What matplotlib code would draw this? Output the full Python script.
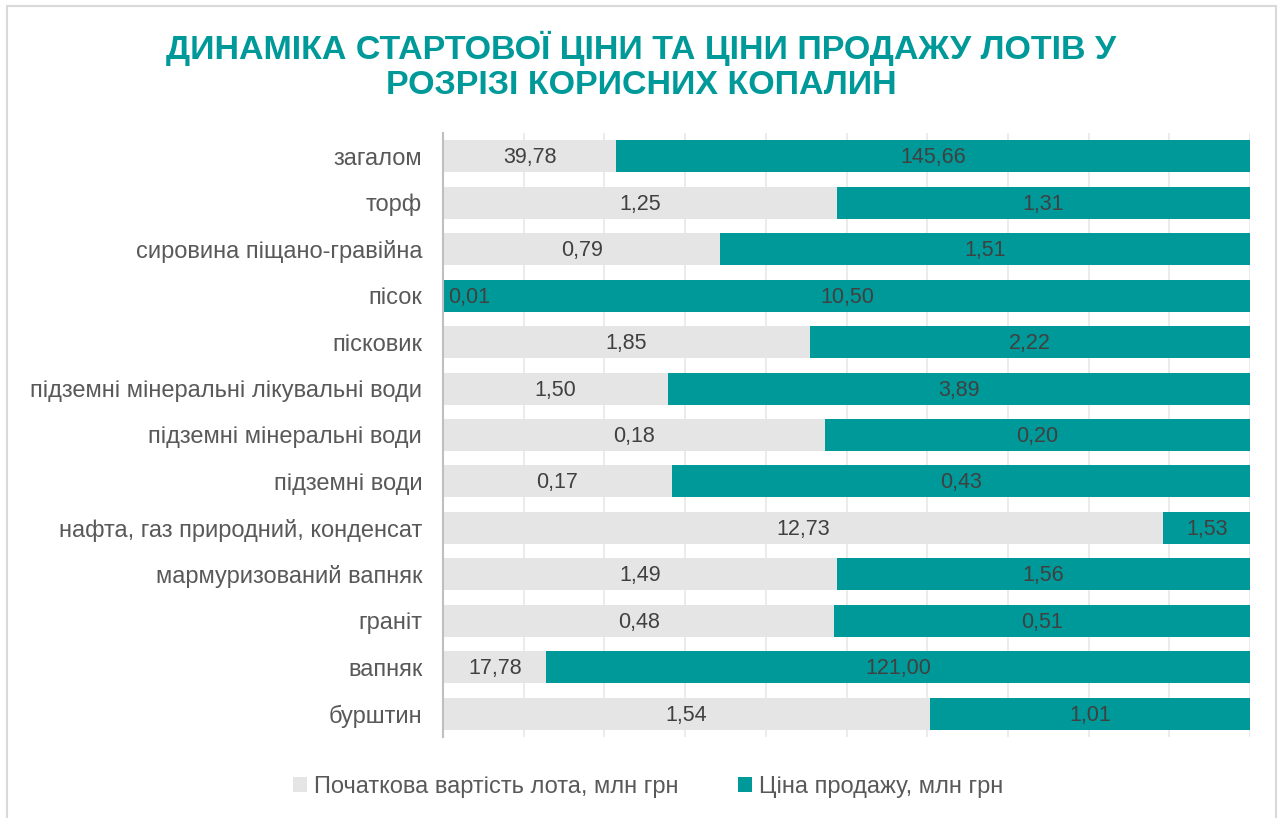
import matplotlib
matplotlib.use("Agg")
import matplotlib.pyplot as plt
from matplotlib.patches import Rectangle
from matplotlib import font_manager
from matplotlib.transforms import offset_copy
import numpy as np

categories = ["загалом", "торф", "сировина піщано-гравійна", "пісок", "пісковик",
              "підземні мінеральні лікувальні води", "підземні мінеральні води",
              "підземні води", "нафта, газ природний, конденсат",
              "мармуризований вапняк", "граніт", "вапняк", "бурштин"]
start_price = [39.78, 1.25, 0.79, 0.01, 1.85, 1.50, 0.18, 0.17, 12.73, 1.49, 0.48, 17.78, 1.54]
sale_price = [145.66, 1.31, 1.51, 10.50, 2.22, 3.89, 0.20, 0.43, 1.53, 1.56, 0.51, 121.00, 1.01]
series_names = ["Початкова вартість лота, млн грн", "Ціна продажу, млн грн"]
title = "ДИНАМІКА СТАРТОВОЇ ЦІНИ ТА ЦІНИ ПРОДАЖУ ЛОТІВ У\nРОЗРІЗІ КОРИСНИХ КОПАЛИН"

names = {f.name for f in font_manager.fontManager.ttflist}
base_font = "Liberation Sans" if "Liberation Sans" in names else "DejaVu Sans"
title_font = "Liberation Sans Narrow" if "Liberation Sans Narrow" in names else base_font
plt.rcParams["font.family"] = [base_font, "DejaVu Sans"]

GRAY = "#e5e5e5"
TEAL = "#009999"
TXT = "#595959"

fig = plt.figure(figsize=(12.82, 8.18), dpi=100)
W, H = 1282, 818
ax = fig.add_axes([443 / W, 1 - 737 / H, (1250 - 443) / W, (737 - 133) / H])

s = np.array(start_price)
p = np.array(sale_price)
tot = s + p
fs = s / tot
fp = p / tot
y = np.arange(len(categories))

ax.barh(y, fs, height=0.69, color=GRAY, label=series_names[0], zorder=2)
ax.barh(y, fp, left=fs, height=0.69, color=TEAL, label=series_names[1], zorder=2)

def fmt(v):
    return f"{v:.2f}".replace(".", ",")

shift = offset_copy(ax.transData, fig=fig, x=0, y=-1.5, units="dots")
shift_left = offset_copy(ax.transData, fig=fig, x=5, y=-1.5, units="dots")
for i in range(len(categories)):
    if fs[i] < 0.04:
        ax.text(0, y[i], fmt(s[i]), ha="left", va="center", fontsize=15.5,
                color="#404040", zorder=3, transform=shift_left)
    else:
        ax.text(fs[i] / 2, y[i], fmt(s[i]), ha="center", va="center", fontsize=15.5,
                color="#404040", zorder=3, transform=shift)
    ax.text(fs[i] + fp[i] / 2, y[i], fmt(p[i]), ha="center", va="center", fontsize=15.5,
            color="#404040", zorder=3, transform=shift)

ax.set_xlim(0, 1)
ax.set_ylim(len(categories) - 0.5, -0.5)
ax.set_xticks(np.linspace(0, 1, 11))
ax.set_xticklabels([])
ax.tick_params(axis="x", length=0)
ax.grid(axis="x", color="#e8e8e8", linewidth=1.2, zorder=0)
ax.set_yticks(y)
ax.set_yticklabels(categories, fontsize=17, color=TXT)
ax.tick_params(axis="y", length=0, pad=15)
for sp in ["top", "right", "bottom"]:
    ax.spines[sp].set_visible(False)
ax.spines["left"].set_color("#bfbfbf")
ax.spines["left"].set_linewidth(1.5)
ax.set_axisbelow(True)

fig.text(0.5, 1 - 66 / H, title, ha="center", va="center", fontsize=24.5,
         fontweight="bold", color=TEAL, family=[title_font, "DejaVu Sans"],
         linespacing=1.15)

leg = fig.legend(loc="center", bbox_to_anchor=(648 / W, 1 - 787 / H), ncol=2,
                 frameon=False, fontsize=17, handlelength=0.6, handleheight=0.6,
                 handletextpad=0.3, columnspacing=2.5, labelcolor=TXT)

fig.patches.append(Rectangle((7 / W, -0.05), (1276 - 7) / W, 1 - 6 / H + 0.05,
                             transform=fig.transFigure, fill=False,
                             edgecolor="#d9d9d9", linewidth=1.5))

fig.savefig("out.png", dpi=100, facecolor="white")
